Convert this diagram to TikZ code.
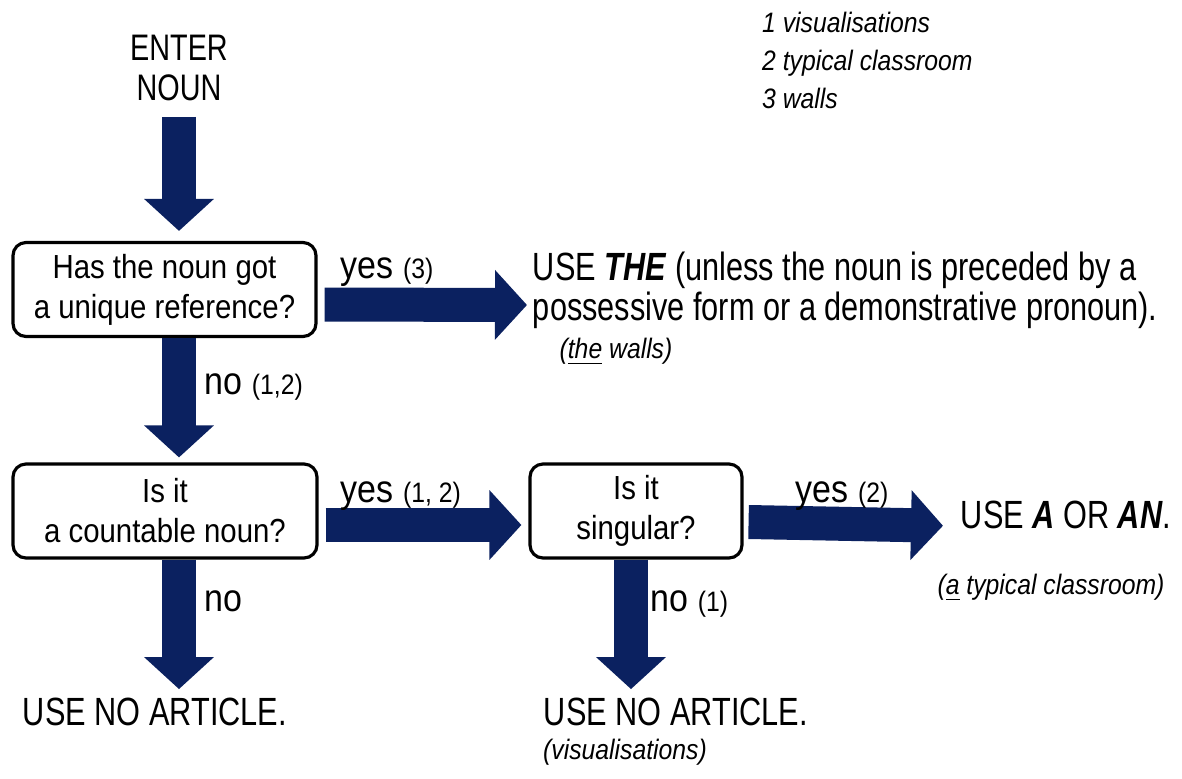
\documentclass[tikz,border=0pt]{standalone}
\usepackage{fontspec}
\setmainfont{Liberation Sans}[FakeStretch=0.88]
\newfontfamily\narrowsans{Liberation Sans}[FakeStretch=0.78]
\usetikzlibrary{arrows.meta}
\definecolor{navy}{HTML}{0B2160}
\tikzset{
  qbox/.style={draw=black, line width=0.9pt, rounded corners=0.13cm, fill=white, align=center,
               minimum height=0.94cm, inner sep=1pt, font=\fontsize{9.5}{11.4}\selectfont},
  outc/.style={font=\narrowsans\fontsize{11.2}{11.4}\selectfont, inner sep=1.5pt, align=left},
  note/.style={font=\itshape\fontsize{8}{9.6}\selectfont, inner sep=1pt},
  lbl/.style={font=\fontsize{11}{13}\selectfont, inner sep=0pt, anchor=base west},
  fat/.style={-{Triangle[length=0.32cm,width=0.68cm]}, line width=0.34cm, draw=navy},
}
\newcommand{\casenum}[1]{{\fontsize{8}{9.6}\selectfont #1}}

\begin{document}
\begin{tikzpicture}[x=1cm, y=1cm]
\fill[white] (0,0) rectangle (11.82,7.78);
\useasboundingbox (0,0) rectangle (11.82,7.78);
% start and the numbered examples
\node[outc, align=center, font=\narrowsans\fontsize{10.5}{11.4}\selectfont] (enter) at (1.79,7.10) {ENTER\\NOUN};
\node[note, anchor=west, align=left, font=\itshape\fontsize{8}{10.8}\selectfont] (key) at (7.58,7.18) {1 visualisations\\2 typical classroom\\3 walls};
% the three questions
\node[qbox, minimum width=3.03cm] (q1) at (1.645,4.885) {Has the noun got\\a unique reference?};
\node[qbox, minimum width=3.04cm] (q2) at (1.65,2.67) {Is it\\a countable noun?};
\node[qbox, minimum width=2.12cm] (q3) at (6.36,2.67) {Is it\\singular?};
% the outcomes
\node[outc, anchor=west] (the) at (5.27,4.88) {USE \textbf{\textit{THE}} (unless the noun is preceded by a\\possessive form or a demonstrative pronoun).};
\node[note] (thenote) at (6.16,4.26) {(\underline{the} walls)};
\node[outc, anchor=west] (usea) at (9.55,2.63) {USE \textbf{\textit{A}} OR \textbf{\textit{AN}}.};
\node[note] (anote) at (10.51,1.90) {(\underline{a} typical classroom)};
\node[outc, anchor=west] (none1) at (0.17,0.66) {USE NO ARTICLE.};
\node[outc, anchor=west] (none2) at (5.38,0.66) {USE NO ARTICLE.};
\node[note] (nonote) at (6.25,0.26) {(visualisations)};
% the fat arrows
\draw[fat, shorten <=1mm, shorten >=1mm] (enter.south) -- (q1.north -| enter.south);
\draw[fat, shorten >=0.5mm] (q1.south -| enter.south) -- (q2.north -| enter.south);
\draw[fat, shorten >=0.3mm] (q2.south -| enter.south) -- (none1.north -| enter.south);
\draw[fat, shorten >=0.3mm] ([xshift=-0.05cm]q3.south) -- ([xshift=-0.05cm]q3.south |- none2.north);
\draw[fat] ([xshift=0.07cm, yshift=-0.15cm]q1.east) -- ([yshift=-0.15cm]the.west);
\draw[fat] ([xshift=0.07cm, yshift=-0.14cm]q2.east) -- ([xshift=-0.07cm, yshift=-0.14cm]q3.west);
\draw[fat, shorten >=1.2mm] ([xshift=0.05cm, yshift=-0.11cm]q3.east) -- ([yshift=-0.11cm]usea.west);
% answers on the arrows
\node[lbl] (yes1) at (3.40,5.00) {yes \casenum{(3)}};
\node[lbl] (no1) at (2.04,3.84) {no \casenum{(1,2)}};
\node[lbl] (yes2) at (3.40,2.76) {yes \casenum{(1, 2)}};
\node[lbl] (yes3) at (7.95,2.76) {yes \casenum{(2)}};
\node[lbl] (no2) at (2.04,1.67) {no};
\node[lbl] (no3) at (6.50,1.67) {no \casenum{(1)}};
\end{tikzpicture}
\end{document}
